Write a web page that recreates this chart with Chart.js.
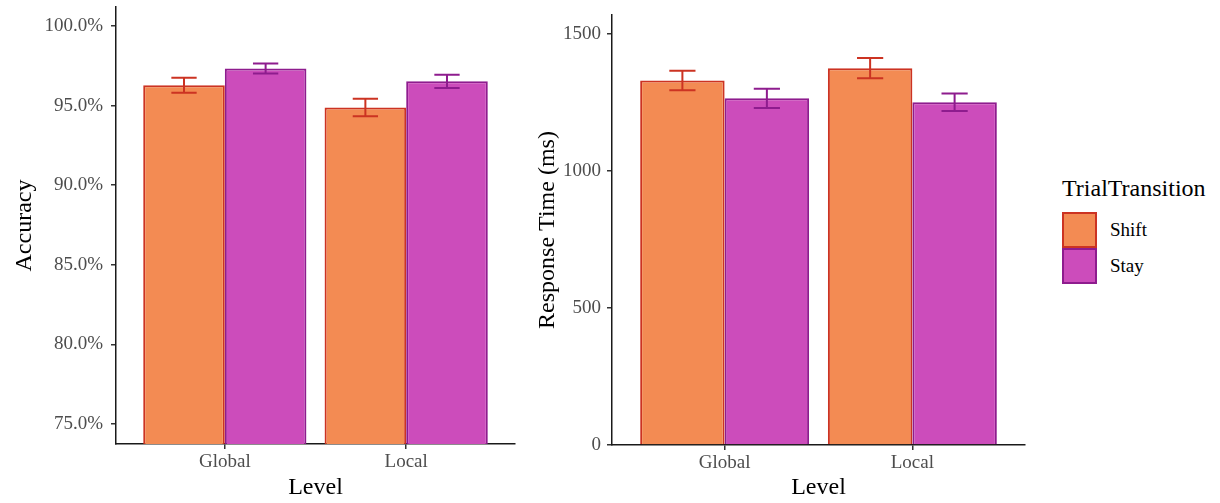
<!DOCTYPE html>
<html>
<head>
<meta charset="utf-8">
<script src="https://cdn.jsdelivr.net/npm/chart.js@4"></script>
<style>
  html, body { margin: 0; padding: 0; background: #fff; }
  #wrap { position: relative; width: 1220px; height: 503px; overflow: hidden; font-family: "Liberation Serif", serif; }
  canvas { position: absolute; top: 0; }
  #accCanvas { left: 0; }
  #rtCanvas { left: 530px; }
  #legend { position: absolute; left: 1062px; top: 172px; color: #000; }
  #legend .title { font-size: 24px; line-height: 32px; height: 40px; }
  #legend .row { display: flex; align-items: center; height: 36px; }
  #legend .key { width: 35px; height: 36px; box-sizing: border-box; border: 2px solid; margin-right: 13px; }
  #legend .lab { font-size: 19px; }
</style>
</head>
<body>
<div id="wrap">
  <canvas id="accCanvas" width="530" height="503"></canvas>
  <canvas id="rtCanvas" width="510" height="503"></canvas>
  <div id="legend">
    <div class="title">TrialTransition</div>
    <div class="row"><div class="key" style="background:#F38B53;border-color:#CC3322"></div><span class="lab">Shift</span></div>
    <div class="row"><div class="key" style="background:#CC4CBB;border-color:#8E1C8E"></div><span class="lab">Stay</span></div>
  </div>
</div>
<script>
// data
const levels = ['Global', 'Local'];
const transitions = ['Shift', 'Stay'];

const accShift = [96.27, 94.88];
const accStay = [97.33, 96.52];
const accShiftSe = [0.47, 0.55];
const accStaySe = [0.31, 0.42];
const accTicks = [75, 80, 85, 90, 95, 100];

const rtShift = [1330, 1375];
const rtStay = [1265, 1251];
const rtShiftSe = [36, 37];
const rtStaySe = [35, 32];
const rtTicks = [0, 500, 1000, 1500];

const fills = ['#F38B53', '#CC4CBB'];
const edges = ['#CC3322', '#8E1C8E'];

const FONT = 'Liberation Serif';
const AXIS = '#1a1a1a';

const toPoints = vals => vals.map((y, i) => ({ x: i + 1, y }));

// draws mean +/- se whiskers on top of each bar
const errorBarPlugin = {
  id: 'errorBars',
  afterDatasetsDraw(chart) {
    const { ctx } = chart;
    const yScale = chart.scales.y;
    chart.data.datasets.forEach((ds, di) => {
      const meta = chart.getDatasetMeta(di);
      meta.data.forEach((bar, i) => {
        const mean = ds.data[i].y;
        const se = ds.se[i];
        const yTop = yScale.getPixelForValue(mean + se);
        const yBot = yScale.getPixelForValue(mean - se);
        const half = bar.width * 0.155;
        ctx.save();
        ctx.strokeStyle = ds.borderColor;
        ctx.lineWidth = 2;
        ctx.beginPath();
        ctx.moveTo(bar.x, yTop); ctx.lineTo(bar.x, yBot);
        ctx.moveTo(bar.x - half, yTop); ctx.lineTo(bar.x + half, yTop);
        ctx.moveTo(bar.x - half, yBot); ctx.lineTo(bar.x + half, yBot);
        ctx.stroke();
        ctx.restore();
      });
    });
  },
};

function buildConfig(opts) {
  return {
    type: 'bar',
    data: {
      datasets: transitions.map((name, k) => ({
        label: name,
        data: toPoints(opts.series[k]),
        se: opts.errors[k],
        backgroundColor: fills[k],
        borderColor: edges[k],
        borderWidth: 2,
        borderSkipped: 'bottom',
        categoryPercentage: 0.9,
        barPercentage: 1,
      })),
    },
    options: {
      responsive: false,
      animation: false,
      layout: { padding: { top: opts.top, right: opts.right, bottom: 0, left: 0 } },
      plugins: { legend: { display: false }, tooltip: { enabled: false } },
      scales: {
        x: {
          type: 'linear',
          min: 0.4,
          max: 2.6,
          offset: false,
          afterBuildTicks: s => { s.ticks = levels.map((_, i) => ({ value: i + 1 })); },
          afterFit: s => { s.height = opts.xHeight; s.paddingLeft = 0; s.paddingRight = 0; },
          ticks: {
            callback: v => levels[v - 1],
            color: '#4d4d4d',
            font: { family: FONT, size: 19 },
            padding: 2,
            maxRotation: 0,
          },
          grid: { offset: false, drawOnChartArea: false, drawTicks: true, tickLength: 5, color: '#333', lineWidth: 1.5 },
          border: { display: true, color: AXIS, width: 1.5 },
          title: { display: true, text: 'Level', color: '#000', font: { family: FONT, size: 24 }, padding: { top: 0, bottom: 1 } },
        },
        y: {
          min: opts.yMin,
          max: opts.yMax,
          afterBuildTicks: s => { s.ticks = opts.ticks.map(v => ({ value: v })); },
          afterFit: s => { s.width = opts.yWidth; s.paddingTop = 0; s.paddingBottom = 0; },
          ticks: {
            callback: opts.fmt,
            color: '#4d4d4d',
            font: { family: FONT, size: 19 },
            padding: opts.tickPad,
          },
          grid: { drawOnChartArea: false, drawTicks: true, tickLength: 5, color: '#333', lineWidth: 1.5 },
          border: { display: true, color: AXIS, width: 1.5 },
          title: { display: true, text: opts.yTitle, color: '#000', font: { family: FONT, size: 24 }, padding: { top: opts.titlePad, bottom: 0 } },
        },
      },
    },
    plugins: [errorBarPlugin],
  };
}

new Chart(document.getElementById('accCanvas'), buildConfig({
  series: [accShift, accStay],
  errors: [accShiftSe, accStaySe],
  ticks: accTicks,
  yMin: 73.74,
  yMax: 101.19,
  fmt: v => v.toFixed(1) + '%',
  yTitle: 'Accuracy',
  yWidth: 116,
  xHeight: 59,
  top: 7,
  right: 15,
  tickPad: 8,
  titlePad: 10,
}));

new Chart(document.getElementById('rtCanvas'), buildConfig({
  series: [rtShift, rtStay],
  errors: [rtShiftSe, rtStaySe],
  ticks: rtTicks,
  yMin: 0,
  yMax: 1569,
  fmt: v => String(v),
  yTitle: 'Response Time (ms)',
  yWidth: 82,
  xHeight: 58,
  top: 15,
  right: 15,
  tickPad: 6,
  titlePad: 3,
}));
</script>
</body>
</html>
